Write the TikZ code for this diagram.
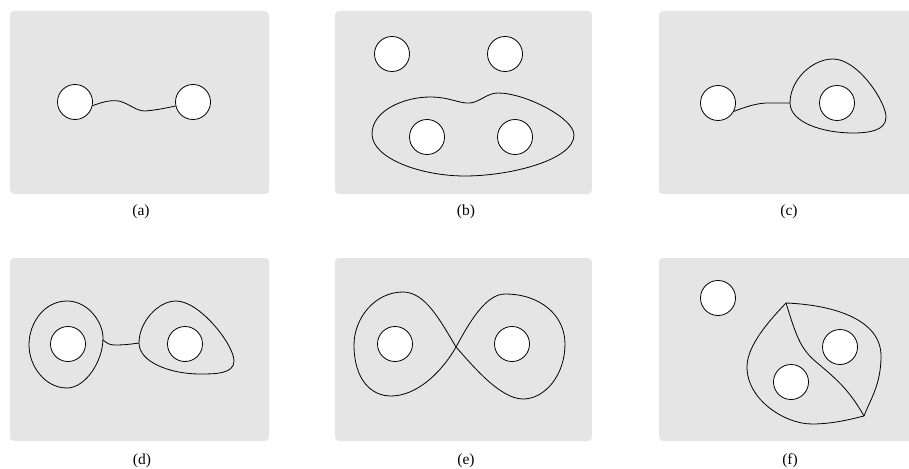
\documentclass[tikz,border=0pt]{standalone}
\usepackage{fontspec}
\setmainfont{Liberation Serif}
\begin{document}
\begin{tikzpicture}[x=1pt,y=-1pt,
  panel/.style={fill=gray!20,draw=none,rounded corners=4pt},
  hole/.style={circle,draw=black,fill=white,line width=0.8pt,minimum size=35pt,inner sep=0pt},
  curve/.style={draw=black,line width=0.8pt},
  lbl/.style={font=\fontsize{15.5}{18}\selectfont,inner sep=0pt}]
\clip (0,0) rectangle (909,468);
\fill[white] (0,0) rectangle (909,468);
% panels
\fill[panel] (10,11) rectangle (269,194);
\fill[panel] (335,11) rectangle (592,194);
\fill[panel] (659,11) rectangle (918,194);
\fill[panel] (10,258) rectangle (269,441);
\fill[panel] (335,258) rectangle (592,441);
\fill[panel] (659,258) rectangle (918,441);
% labels
\node[lbl] (la) at (141,212) {(a)};
\node[lbl] (lb) at (466,212) {(b)};
\node[lbl] (lc) at (789,212) {(c)};
\node[lbl] (ld) at (142,461) {(d)};
\node[lbl] (le) at (466,461) {(e)};
\node[lbl] (lf) at (790,461) {(f)};

% (a)
\node[hole] (a1) at (75,102) {};
\node[hole] (a2) at (193,102) {};
\draw[curve] (a1.-12) .. controls (105,101) and (112,100) .. (119,101) .. controls (130,104) and (136,111) .. (145,111) .. controls (157,110) and (166,108) .. (a2.193);

% (b)
\draw[curve] (372,134) .. controls (372,110) and (405,97) .. (430,97)
  .. controls (450,97) and (460,104) .. (470,103)
  .. controls (480,102) and (487,93) .. (498,93)
  .. controls (525,93) and (574,118) .. (574,135)
  .. controls (574,160) and (510,176) .. (465,176)
  .. controls (420,176) and (372,158) .. (372,134) -- cycle;
\node[hole] (b1) at (392,54) {};
\node[hole] (b2) at (505,54) {};
\node[hole] (b3) at (427,137) {};
\node[hole] (b4) at (515,137) {};

% (c)
\coordinate (cL) at (790,103);
\draw[curve] (cL) .. controls (790,80) and (812,59) .. (833,59)
  .. controls (858,59) and (886,102) .. (886,117)
  .. controls (886,131) and (868,133) .. (853,133)
  .. controls (822,133) and (790,122) .. (cL) -- cycle;
\node[hole] (c1) at (718,103) {};
\node[hole] (c2) at (837,103) {};
\draw[curve] (c1.-28) .. controls (750,105) and (760,103) .. (768,103) -- (cL);

% (d)
\draw[curve] (67,301) .. controls (88,301) and (103,322) .. (103,338)
  .. controls (103,362) and (85,388) .. (67,388)
  .. controls (45,388) and (29,366) .. (29,345)
  .. controls (29,322) and (45,301) .. (67,301) -- cycle;
\coordinate (dL) at (103,340);
\coordinate (dR) at (139,343);
\draw[curve] (dR) .. controls (139,322) and (158,301) .. (176,301)
  .. controls (200,301) and (234,345) .. (234,361)
  .. controls (234,374) and (215,374) .. (200,374)
  .. controls (170,374) and (139,362) .. (dR) -- cycle;
\node[hole] (d1) at (68,344) {};
\node[hole] (d2) at (185,344) {};
\draw[curve] (dL) .. controls (108,344) and (110,345) .. (115,345) .. controls (125,345) and (132,344) .. (dR);

% (e)
\coordinate (eX) at (456,347);
\draw[curve] (eX) .. controls (440,320) and (425,292) .. (403,292)
  .. controls (375,292) and (354,318) .. (354,345)
  .. controls (354,378) and (370,396) .. (391,396)
  .. controls (415,396) and (440,375) .. (eX)
  .. controls (468,325) and (485,294) .. (505,294)
  .. controls (540,294) and (565,315) .. (565,344)
  .. controls (565,375) and (545,399) .. (523,399)
  .. controls (500,399) and (472,365) .. (eX) -- cycle;
\node[hole] (e1) at (395,344) {};
\node[hole] (e2) at (512,344) {};

% (f)
\coordinate (fT) at (786,303);
\coordinate (fB) at (864,416);
\draw[curve] (fT) .. controls (770,320) and (747,345) .. (747,367)
  .. controls (747,400) and (785,424) .. (812,424)
  .. controls (835,424) and (855,418) .. (fB);
\draw[curve] (fT) .. controls (835,305) and (881,320) .. (881,356)
  .. controls (881,385) and (870,400) .. (fB);
\draw[curve] (fT) .. controls (796,335) and (800,348) .. (815,361)
  .. controls (835,378) and (848,388) .. (fB);
\node[hole] (f1) at (718,298) {};
\node[hole] (f2) at (840,347) {};
\node[hole] (f3) at (791,382) {};
\end{tikzpicture}
\end{document}
